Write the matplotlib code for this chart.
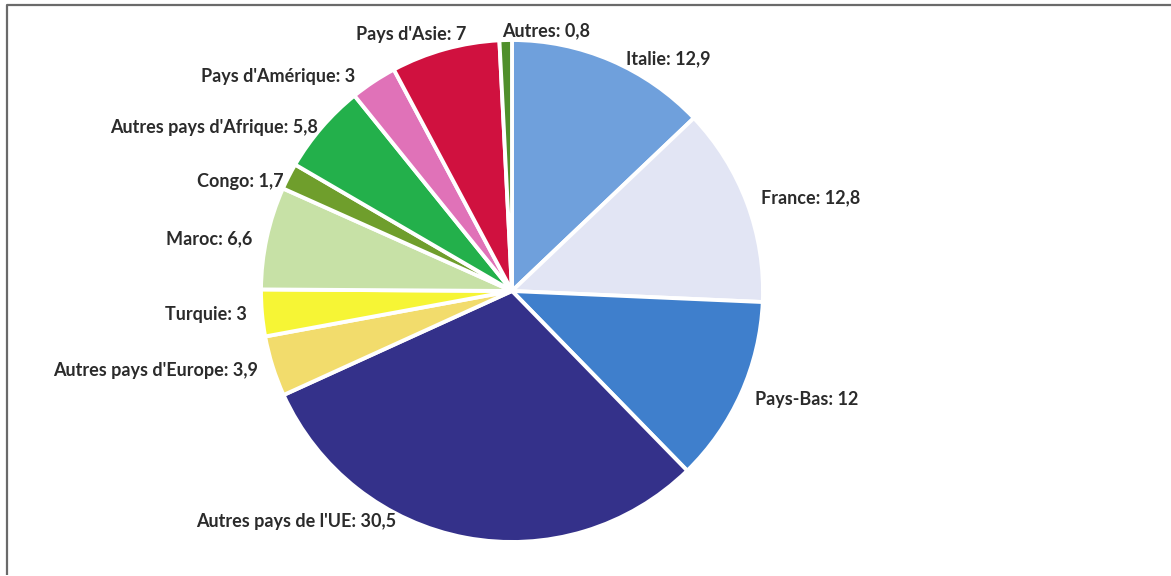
import matplotlib.pyplot as plt
import numpy as np

# parts (%) clockwise from 12 o'clock
labels = ["Italie", "France", "Pays-Bas", "Autres pays de l'UE", "Autres pays d'Europe",
          "Turquie", "Maroc", "Congo", "Autres pays d'Afrique", "Pays d'Amérique",
          "Pays d'Asie", "Autres"]
values = [12.9, 12.8, 12, 30.5, 3.9, 3, 6.6, 1.7, 5.8, 3, 7, 0.8]
colors = ["#6fa0dc", "#e2e5f4", "#3f7fcc", "#34318a", "#f2dc6c", "#f6f535",
          "#c7e1a6", "#6f9e2c", "#23b04b", "#e072b8", "#d0113f", "#4f8f2b"]

W, H = 1171, 576
fig = plt.figure(figsize=(W / 100, H / 100), dpi=100)
ax = fig.add_axes([0, 0, 1, 1])

cx, cy, R = 512, H - 291, 251
wedges, _ = ax.pie(values, colors=colors, startangle=90, counterclock=False,
                   center=(cx, cy), radius=R,
                   wedgeprops=dict(edgecolor='white', linewidth=2.8))
ax.set_xlim(0, W)
ax.set_ylim(0, H)
ax.axis('off')

def fmt(v):
    return (f"{v:g}").replace('.', ',')

# small nudges (pixels, x right / y up) to mimic Excel's label placement
nudge = {"Italie": (9, -12), "Pays d'Asie": (25, 0), "Autres pays d'Afrique": (8, -10),
         "Pays d'Amérique": (-10, -7), "Congo": (8, -12), "Maroc": (0, -4),
         "Autres": (-3, -6)}

for w, lab, v in zip(wedges, labels, values):
    ang = (w.theta1 + w.theta2) / 2
    r = 1.06
    ha = None
    if lab == "Autres pays de l'UE":
        ang, r, ha = -116.7, 1.03, 'right'
    if lab == "Autres":
        ha = 'left'
    a = np.deg2rad(ang)
    dx, dy = nudge.get(lab, (0, 0))
    x = cx + R * r * np.cos(a) + dx
    y = cy + R * r * np.sin(a) + dy
    if ha is None:
        ha = 'left' if np.cos(a) > 0 else 'right'
    ax.text(x, y, f"{lab}: {fmt(v)}", ha=ha, va='center', fontsize=13,
            fontweight='bold', color='#2b2b2b', family=['Lato', 'DejaVu Sans'])

# frame
ax.plot([7, 7, W], [1, H - 5, H - 5], color='#6a6a6a', lw=1.6, solid_capstyle='butt')

fig.savefig('out.png', dpi=100)
